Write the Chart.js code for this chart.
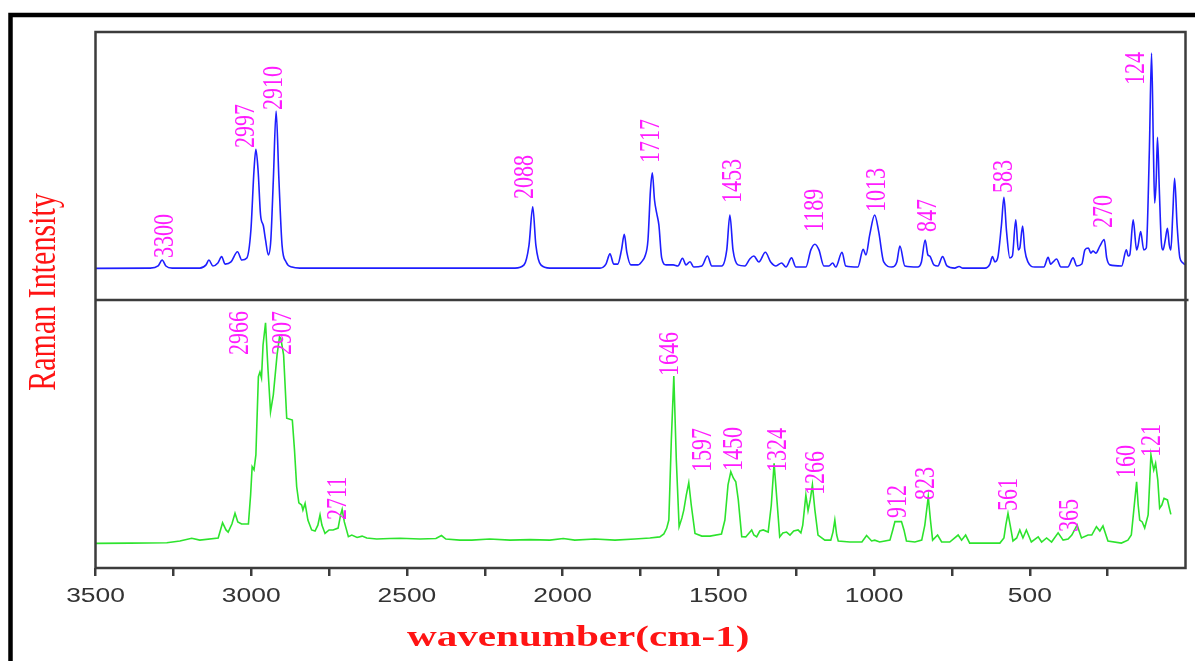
<!DOCTYPE html>
<html>
<head>
<meta charset="utf-8">
<title>Raman spectra</title>
<script src="https://cdn.jsdelivr.net/npm/chart.js@4.4.0/dist/chart.umd.min.js"></script>
<style>
  html, body { margin: 0; padding: 0; background: #fff; }
  canvas { display: block; }
</style>
</head>
<body>
<canvas id="ramanChart" width="1195" height="661"></canvas>
<script>
// Top spectrum (blue) - wavenumber (cm-1) and intensity (panel units 0-100)
const blueWavenumber = [
  3500, 3325, 3299, 3286, 3274, 3254, 3165, 3145, 3136, 3123,
  3107, 3095, 3084, 3065, 3044, 3030, 3014, 3001, 2991, 2985,
  2978, 2970, 2961, 2954, 2945, 2937, 2929, 2920, 2911, 2901,
  2888, 2869, 2844, 2153, 2124, 2108, 2096, 2086, 2070, 2041,
  1880, 1861, 1848, 1836, 1823, 1811, 1802, 1794, 1781, 1758,
  1742, 1736, 1726, 1718, 1712, 1705, 1698, 1691, 1682, 1668,
  1645, 1630, 1615, 1604, 1591, 1579, 1553, 1535, 1521, 1489,
  1473, 1463, 1453, 1437, 1415, 1399, 1386, 1370, 1349, 1332,
  1315, 1297, 1283, 1265, 1251, 1219, 1203, 1190, 1177, 1161,
  1145, 1133, 1123, 1103, 1091, 1052, 1035, 1026, 1014, 998,
  985, 969, 943, 927, 917, 901, 860, 848, 836, 827,
  821, 808, 795, 780, 766, 741, 727, 715, 644, 628,
  620, 612, 603, 591, 583, 575, 564, 556, 545, 537,
  532, 523, 516, 506, 484, 455, 441, 433, 425, 414,
  400, 378, 361, 349, 333, 323, 312, 304, 297, 288,
  275, 261, 253, 243, 205, 190, 184, 179, 168, 157,
  152, 144, 134, 126, 116, 109, 103, 99, 94, 90,
  84, 78, 72, 65, 58, 52, 47, 41, 35, 27,
  18, 8, 2
];
const blueIntensity = [
  11.8, 11.9, 12.7, 14.9, 12.7, 11.9, 11.9, 13.1, 14.9, 12.7,
  13.8, 16.2, 13.4, 14.2, 18.0, 14.9, 15.7, 26.1, 48.5, 56.2,
  48.5, 31.7, 27.7, 22.4, 16.8, 22.4, 44.8, 70.5, 44.8, 20.5,
  14.2, 12.3, 11.9, 11.9, 13.1, 20.5, 34.8, 20.5, 13.1, 11.9,
  11.9, 13.4, 17.2, 13.4, 13.4, 18.7, 24.5, 17.9, 13.1, 13.1,
  14.9, 16.2, 22.4, 41.0, 47.5, 37.3, 32.4, 28.0, 15.7, 13.1,
  13.1, 12.7, 15.6, 13.1, 14.3, 12.3, 12.7, 16.4, 12.7, 12.7,
  18.7, 31.7, 18.7, 13.1, 12.7, 15.3, 16.4, 14.2, 17.8, 14.2,
  12.7, 13.8, 12.3, 15.7, 12.3, 12.3, 18.7, 20.8, 18.7, 12.7,
  12.7, 13.8, 12.3, 17.8, 12.7, 12.3, 18.9, 16.8, 24.3, 31.7,
  25.4, 14.2, 12.3, 14.2, 20.1, 12.7, 12.3, 14.2, 22.4, 16.8,
  16.4, 13.1, 12.7, 16.2, 12.7, 11.9, 12.5, 11.9, 11.9, 13.4,
  16.2, 14.2, 15.7, 28.0, 38.3, 26.1, 15.7, 16.4, 29.9, 18.7,
  19.4, 27.6, 18.7, 14.2, 12.3, 12.3, 15.9, 13.4, 14.2, 15.3,
  12.3, 12.3, 15.7, 12.7, 13.4, 18.7, 19.4, 17.5, 18.3, 17.5,
  20.1, 22.6, 15.7, 13.1, 12.7, 18.7, 16.4, 16.8, 29.9, 18.7,
  20.5, 25.5, 18.7, 19.4, 56.0, 92.1, 56.0, 36.2, 44.8, 60.7,
  41.0, 22.4, 18.7, 22.4, 26.8, 20.5, 18.7, 31.7, 45.4, 28.0,
  15.7, 13.8, 13.1
];

// Bottom spectrum (green)
const greenWavenumber = [
  3500, 3389, 3271, 3229, 3191, 3165, 3106, 3092, 3081, 3074,
  3062, 3052, 3043, 3031, 3009, 3002, 2997, 2991, 2985, 2977,
  2972, 2967, 2962, 2954, 2946, 2938, 2929, 2917, 2909, 2905,
  2896, 2886, 2868, 2861, 2854, 2847, 2838, 2834, 2827, 2818,
  2806, 2795, 2786, 2779, 2773, 2763, 2750, 2737, 2721, 2713,
  2708, 2701, 2688, 2677, 2660, 2644, 2629, 2597, 2555, 2522,
  2458, 2407, 2389, 2375, 2330, 2292, 2234, 2169, 2105, 2041,
  1998, 1961, 1897, 1832, 1768, 1720, 1688, 1675, 1666, 1659,
  1651, 1643, 1635, 1626, 1617, 1611, 1603, 1595, 1587, 1575,
  1553, 1527, 1490, 1479, 1469, 1460, 1452, 1444, 1436, 1425,
  1412, 1393, 1386, 1377, 1367, 1356, 1340, 1330, 1321, 1312,
  1303, 1293, 1281, 1270, 1258, 1244, 1235, 1229, 1219, 1212,
  1205, 1198, 1190, 1180, 1158, 1139, 1132, 1126, 1120, 1115,
  1078, 1039, 1024, 1008, 998, 982, 949, 940, 933, 912,
  904, 896, 869, 847, 837, 826, 819, 812, 796, 783,
  757, 730, 719, 706, 693, 644, 596, 583, 577, 570,
  563, 554, 542, 532, 522, 511, 495, 473, 462, 446,
  430, 409, 393, 377, 365, 348, 334, 313, 301, 286,
  275, 265, 249, 206, 185, 174, 166, 157, 152, 147,
  139, 131, 120, 111, 107, 102, 96, 89, 83, 76,
  69, 58, 52, 47
];
const greenIntensity = [
  9.2, 9.3, 9.4, 10.1, 11.1, 10.4, 11.2, 16.9, 14.2, 13.4,
  16.4, 20.4, 17.2, 16.4, 16.4, 27.2, 37.8, 36.6, 42.2, 71.4,
  73.1, 70.9, 83.2, 91.5, 73.9, 58.3, 64.6, 79.5, 86.3, 85.7,
  79.5, 55.9, 55.2, 44.0, 30.3, 24.3, 23.5, 21.6, 24.1, 17.9,
  14.2, 13.8, 16.0, 19.8, 16.0, 12.9, 14.2, 14.2, 14.9, 19.8,
  21.9, 17.2, 11.7, 12.3, 11.4, 11.9, 11.2, 10.8, 11.0, 11.1,
  10.8, 11.0, 12.1, 10.8, 10.4, 10.4, 10.8, 10.4, 10.6, 10.4,
  11.0, 10.4, 10.8, 10.4, 10.8, 11.2, 11.6, 12.7, 14.8, 17.9,
  47.8, 71.6, 40.3, 15.4, 18.7, 21.6, 27.2, 31.8, 23.5, 12.9,
  11.9, 11.9, 12.7, 17.9, 31.0, 35.9, 33.6, 32.2, 25.4, 11.7,
  11.6, 14.2, 12.3, 11.6, 13.8, 14.2, 13.4, 23.5, 39.1, 25.4,
  11.6, 13.1, 13.4, 12.3, 13.8, 14.2, 13.1, 16.0, 27.2, 21.4,
  25.4, 31.0, 21.6, 12.3, 10.4, 10.4, 13.4, 17.9, 12.3, 10.1,
  9.7, 9.7, 12.1, 10.1, 10.4, 9.7, 10.4, 14.2, 17.3, 17.3,
  14.2, 10.1, 9.7, 10.4, 16.0, 26.6, 17.9, 10.4, 12.3, 9.7,
  9.7, 12.3, 10.4, 12.3, 9.3, 9.3, 9.3, 11.2, 16.0, 20.4,
  16.0, 10.1, 11.2, 14.2, 11.2, 14.2, 9.7, 11.6, 9.7, 11.2,
  9.7, 13.1, 10.4, 10.8, 12.3, 16.0, 11.2, 12.3, 12.3, 15.4,
  13.8, 15.7, 10.1, 9.3, 10.4, 12.3, 21.6, 32.2, 23.5, 17.9,
  17.2, 14.9, 19.8, 42.2, 39.6, 36.6, 39.1, 32.8, 22.3, 23.5,
  26.0, 25.4, 22.4, 20.0
];

// Peak labels: text, where the label sits (wavenumber) and where it starts (intensity)
const topPeakLabels = ['3300', '2997', '2910', '2088', '1717', '1453', '1189', '1013', '847', '583', '270', '124'];
const topPeakWavenumber = [3277, 3015, 2927, 2121, 1714, 1453, 1190, 991, 827, 581, 259, 157];
const topPeakHeight = [15.7, 56.7, 70.9, 37.7, 51.1, 36.2, 25.4, 32.8, 25.4, 39.9, 26.9, 80.2];

const bottomPeakLabels = ['2966', '2907', '2711', '1646', '1597', '1450', '1324', '1266', '912', '823', '561', '365', '160', '121'];
const bottomPeakWavenumber = [3036, 2897, 2721, 1653, 1549, 1450, 1307, 1185, 921, 832, 567, 370, 186, 107];
const bottomPeakHeight = [79.5, 79.5, 17.9, 71.6, 35.8, 36.2, 35.8, 27.2, 18.7, 25.4, 21.3, 13.4, 33.6, 41.4];

// Axis tick labels
const xTickLabels = [3500, 3000, 2500, 2000, 1500, 1000, 500];

const toPoints = (xs, ys) => xs.map((x, i) => ({ x: x, y: ys[i] }));

// the source image is stretched sideways, so text gets a horizontal scale
const STRETCH = 1.32;

function drawText(ctx, text, x, y, rotated, stretch) {
  const s = stretch || STRETCH;
  ctx.save();
  ctx.translate(x, y);
  if (rotated) {
    ctx.rotate(-Math.PI / 2);
    ctx.scale(1, s);
  } else {
    ctx.scale(s, 1);
  }
  ctx.fillText(text, 0, 0);
  ctx.restore();
}

// Frame, borders and all texts
const decorations = {
  id: 'decorations',
  afterDraw(chart) {
    const ctx = chart.ctx;
    const area = chart.chartArea;
    const xs = chart.scales.x;
    const yTop = chart.scales.yTop;
    const yBottom = chart.scales.yBottom;

    ctx.save();

    // plot frame + divider between the panels
    ctx.strokeStyle = '#3c3c3c';
    ctx.lineWidth = 2.5;
    ctx.strokeRect(area.left, area.top, area.right - area.left, area.bottom - area.top);
    ctx.beginPath();
    ctx.moveTo(area.left, yTop.bottom);
    ctx.lineTo(area.right + 3, yTop.bottom);
    ctx.stroke();

    // outer black border (cut off at right and bottom)
    ctx.strokeStyle = '#000';
    ctx.lineWidth = 4.5;
    ctx.beginPath();
    ctx.moveTo(10.5, chart.height);
    ctx.lineTo(10.5, 15);
    ctx.lineTo(chart.width, 15);
    ctx.stroke();

    // x tick labels
    ctx.fillStyle = '#333';
    ctx.font = '20px "Liberation Sans", Arial, sans-serif';
    ctx.textAlign = 'center';
    ctx.textBaseline = 'middle';
    xTickLabels.forEach((v) => {
      drawText(ctx, String(v), xs.getPixelForValue(v), area.bottom + 28, false);
    });

    // axis titles
    ctx.fillStyle = '#ff1414';
    ctx.font = 'bold 30px "Liberation Serif", "Times New Roman", serif';
    drawText(ctx, 'wavenumber(cm-1)', xs.getPixelForValue(1950), area.bottom + 70, false, 1.37);
    ctx.font = '30px "Liberation Serif", "Times New Roman", serif';
    drawText(ctx, 'Raman Intensity', 45, 292, true);

    // peak labels
    ctx.fillStyle = '#ff1cff';
    ctx.font = '22px "Liberation Serif", "Times New Roman", serif';
    ctx.textAlign = 'left';
    topPeakLabels.forEach((t, i) => {
      drawText(ctx, t, xs.getPixelForValue(topPeakWavenumber[i]), yTop.getPixelForValue(topPeakHeight[i]), true);
    });
    bottomPeakLabels.forEach((t, i) => {
      drawText(ctx, t, xs.getPixelForValue(bottomPeakWavenumber[i]), yBottom.getPixelForValue(bottomPeakHeight[i]), true);
    });

    ctx.restore();
  }
};

const ctx = document.getElementById('ramanChart').getContext('2d');
const ramanChart = new Chart(ctx, {
  type: 'line',
  data: {
    datasets: [{
      label: 'top',
      data: toPoints(blueWavenumber, blueIntensity),
      yAxisID: 'yTop',
      borderColor: '#1e1eff',
      borderWidth: 1.6,
      pointRadius: 0,
      fill: false,
      cubicInterpolationMode: 'monotone'
    }, {
      label: 'bottom',
      data: toPoints(greenWavenumber, greenIntensity),
      yAxisID: 'yBottom',
      borderColor: '#2de32d',
      borderWidth: 1.6,
      pointRadius: 0,
      fill: false,
      tension: 0
    }]
  },
  options: {
    responsive: false,
    animation: false,
    devicePixelRatio: 1,
    layout: {
      padding: { left: 95.5, right: 9.5, top: 32, bottom: 0 }
    },
    plugins: {
      legend: { display: false },
      tooltip: { enabled: false }
    },
    scales: {
      x: {
        type: 'linear',
        position: 'bottom',
        min: 0,
        max: 3500,
        reverse: true,
        ticks: { display: false, stepSize: 250 },
        afterBuildTicks: (scale) => {
          scale.ticks = scale.ticks.filter((t) => t.value > 0);
        },
        grid: {
          display: true,
          drawOnChartArea: false,
          drawTicks: true,
          tickLength: 8,
          color: '#3c3c3c',
          lineWidth: 2.5
        },
        border: { display: false },
        afterFit: (scale) => { scale.height = 93; }
      },
      // stacked scales are placed bottom-up, so the lower panel comes first
      yBottom: {
        type: 'linear',
        position: 'left',
        stack: 'raman',
        stackWeight: 1,
        min: 0,
        max: 100,
        display: false
      },
      yTop: {
        type: 'linear',
        position: 'left',
        stack: 'raman',
        stackWeight: 1,
        min: 0,
        max: 100,
        display: false
      }
    }
  },
  plugins: [decorations]
});
</script>
</body>
</html>
